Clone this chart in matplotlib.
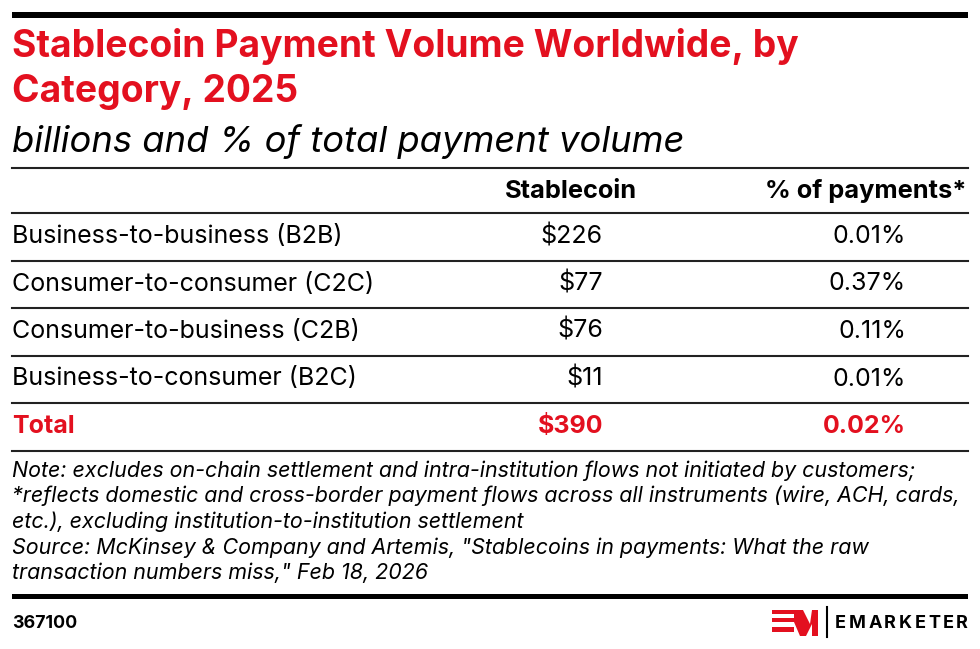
import matplotlib
matplotlib.use('Agg')
from matplotlib import pyplot as plt
from matplotlib.patches import Polygon, Rectangle

plt.rcParams['font.family'] = ['Inter', 'DejaVu Sans']

RED = '#e3101f'
LINE = '#222222'

title_lines = ['Stablecoin Payment Volume Worldwide, by', 'Category, 2025']
subtitle = 'billions and % of total payment volume'
col_headers = ['Stablecoin', '% of payments*']
categories = ['Business-to-business (B2B)', 'Consumer-to-consumer (C2C)',
              'Consumer-to-business (C2B)', 'Business-to-consumer (B2C)']
stablecoin = [226, 77, 76, 11]
pct_payments = [0.01, 0.37, 0.11, 0.01]
total_label = 'Total'
total_stablecoin = 390
total_pct = 0.02
notes = [
    'Note: excludes on-chain settlement and intra-institution flows not initiated by customers;',
    '*reflects domestic and cross-border payment flows across all instruments (wire, ACH, cards,',
    'etc.), excluding institution-to-institution settlement',
    'Source: McKinsey & Company and Artemis, "Stablecoins in payments: What the raw',
    'transaction numbers miss," Feb 18, 2026',
]
chart_id = '367100'
brand = 'EMARKETER'

fig = plt.figure(figsize=(9.8, 6.49), dpi=100)
ax = fig.add_axes([0, 0, 1, 1])
ax.set_xlim(0, 980)
ax.set_ylim(649, 0)
ax.axis('off')

left, right = 12, 968

# top bar
ax.add_patch(Rectangle((left, 12), right - left, 6, color='black', lw=0))

# title
for i, line in enumerate(title_lines):
    ax.text(left, 57 + i * 45, line, color=RED, fontsize=26.8, fontweight='bold',
            va='baseline', ha='left')
ax.text(left, 152, subtitle, fontsize=26.2, style='italic', va='baseline', ha='left')

# table
row_h = 47.5
header_base = 198
val_x, pct_x = 603, 906
ax.plot([left, right], [168, 168], color=LINE, lw=1.5)
ax.text(571, header_base, col_headers[0], fontsize=18.3, fontweight='bold',
        ha='center', va='baseline')
ax.text(right - 2, header_base, col_headers[1], fontsize=18.3, fontweight='bold',
        ha='right', va='baseline')
ax.plot([left, right], [213, 213], color=LINE, lw=1.5)

rows = [(c, f'${v}', f'{p:.2f}%', 'black', 'normal')
        for c, v, p in zip(categories, stablecoin, pct_payments)]
rows.append((total_label, f'${total_stablecoin}', f'{total_pct:.2f}%', RED, 'bold'))

for i, (cat, val, pct, col, wt) in enumerate(rows):
    base = 243 + i * row_h
    ax.text(left, base, cat, fontsize=18, color=col, fontweight=wt, va='baseline')
    ax.text(val_x, base, val, fontsize=18, color=col, fontweight=wt,
            ha='right', va='baseline')
    ax.text(pct_x, base, pct, fontsize=18, color=col, fontweight=wt,
            ha='right', va='baseline')
    yl = 213 + (i + 1) * row_h
    ax.plot([left, right], [yl, yl], color=LINE, lw=1.5)

# notes
for i, line in enumerate(notes):
    ax.text(left, 477 + i * 25.5, line, fontsize=15.45, style='italic', va='baseline')

# bottom bar
ax.add_patch(Rectangle((left, 594), right - left, 5, color='black', lw=0))
ax.text(left, 628, chart_id, fontsize=12.8, fontweight='bold', va='baseline')

# logo
for y0, h in [(610, 4), (618, 4), (627, 5)]:
    ax.add_patch(Rectangle((772, y0), 22, h, color=RED, lw=0))
ax.add_patch(Polygon([(794, 610), (803, 610), (810, 624), (812, 610), (818, 610),
                      (818, 636), (812, 636), (812, 624), (806, 636), (800, 636),
                      (794, 622)], closed=True, color=RED, lw=0))
ax.plot([827, 827], [607, 637], color='black', lw=1.5)

# letter-spaced brand name, fitted between x=835 and the right edge
renderer = fig.canvas.get_renderer()
chars = [ax.text(0, 628, ch, fontsize=13, fontweight='bold', va='baseline')
         for ch in brand]
widths = [t.get_window_extent(renderer).width for t in chars]
gap = (right - 835 - sum(widths)) / (len(brand) - 1)
x = 835
for t, w in zip(chars, widths):
    t.set_x(x)
    x += w + gap

fig.savefig('out.png', dpi=100)
